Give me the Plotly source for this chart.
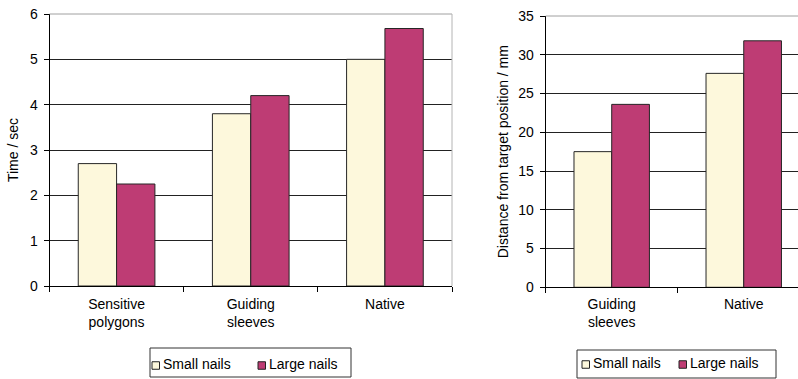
import plotly.graph_objects as go

# Task time per technique
time_categories = ["Sensitive<br>polygons", "Guiding<br>sleeves", "Native"]
time_small = [2.7, 3.8, 5.0]
time_large = [2.25, 4.2, 5.68]

# Placement error per technique
dist_categories = ["Guiding<br>sleeves", "Native"]
dist_small = [17.5, 27.6]
dist_large = [23.6, 31.8]

series_names = ["Small nails", "Large nails"]
small_color = "#FDF8DC"
large_color = "#BE3C74"
edge = "#262626"
font_family = "Liberation Sans, Arial, sans-serif"
fsize = 14

W, H = 798, 379


def px_x(v):
    return v / W


def px_y(v):
    return (H - v) / H


fig = go.Figure()

for name, vals, col in zip(series_names, [time_small, time_large], [small_color, large_color]):
    fig.add_trace(go.Bar(
        x=time_categories, y=vals, name=name,
        marker=dict(color=col, line=dict(color=edge, width=1)),
        xaxis="x", yaxis="y", showlegend=False,
    ))

for name, vals, col in zip(series_names, [dist_small, dist_large], [small_color, large_color]):
    fig.add_trace(go.Bar(
        x=dist_categories, y=vals, name=name,
        marker=dict(color=col, line=dict(color=edge, width=1)),
        xaxis="x2", yaxis="y2", showlegend=False,
    ))

axis_common = dict(
    showgrid=False, showline=True, linecolor="#000000", linewidth=1,
    ticks="outside", tickcolor="#000000", ticklen=5, tickwidth=1,
    tickfont=dict(family=font_family, size=fsize, color="#000000"),
    fixedrange=True, automargin=False, zeroline=False,
)

shapes = [
    # gray plot-area border (top and right) of the left chart
    dict(type="line", xref="x domain", yref="y domain", x0=0, x1=1, y0=1, y1=1,
         line=dict(color="#A0A0A0", width=1), layer="above"),
    dict(type="line", xref="x domain", yref="y domain", x0=1, x1=1, y0=0, y1=1,
         line=dict(color="#B4B4B4", width=1), layer="above"),
    # gray top border of the right chart
    dict(type="line", xref="x2 domain", yref="y2 domain", x0=0, x1=1, y0=1, y1=1,
         line=dict(color="#A0A0A0", width=1), layer="above"),
]
annotations = []

# Legend boxes drawn beneath each chart: (box x0, x1, y0, y1, swatch x positions)
legend_specs = [
    dict(box=(150, 351, 348, 377), swatches=(152, 258), yc=365.5),
    dict(box=(577, 776, 350, 378), swatches=(582, 679), yc=364.5),
]
for spec in legend_specs:
    bx0, bx1, by0, by1 = spec["box"]
    shapes.append(dict(type="rect", xref="paper", yref="paper",
                       x0=px_x(bx0), x1=px_x(bx1), y0=px_y(by1), y1=px_y(by0),
                       line=dict(color="#333333", width=1), fillcolor="white", layer="above"))
    for sx, name, col in zip(spec["swatches"], series_names, [small_color, large_color]):
        yc = spec["yc"]
        shapes.append(dict(type="rect", xref="paper", yref="paper",
                           x0=px_x(sx), x1=px_x(sx + 7.5), y0=px_y(yc + 3.75), y1=px_y(yc - 3.75),
                           line=dict(color="#222222", width=1), fillcolor=col, layer="above"))
        annotations.append(dict(xref="paper", yref="paper", x=px_x(sx + 8.5), y=px_y(yc - 2),
                                text=name, showarrow=False, xanchor="left", yanchor="middle",
                                font=dict(family=font_family, size=fsize, color="#000000")))

fig.update_layout(
    width=W, height=H,
    margin=dict(l=0, r=0, t=0, b=0, pad=0),
    autosize=False,
    paper_bgcolor="white", plot_bgcolor="white",
    barmode="group", bargap=1.5 / 3.5, bargroupgap=0,
    font=dict(family=font_family, size=fsize, color="#000000"),
    showlegend=False,
    xaxis=dict(axis_common, domain=[px_x(49.5), px_x(452)], range=[-0.5, 2.5],
               tickson="boundaries", anchor="y", ticklabelstandoff=5),
    yaxis=dict(axis_common, domain=[px_y(286), px_y(14)], range=[0, 6], dtick=1,
               showgrid=True, gridcolor="#222222", gridwidth=1, anchor="x",
               ticklabelstandoff=3,
               title=dict(text="Time / sec", font=dict(family=font_family, size=fsize), standoff=8)),
    xaxis2=dict(axis_common, domain=[px_x(545.7), 1.0], range=[-0.5, 1.411],
                tickson="boundaries", anchor="y2", ticklabelstandoff=4),
    yaxis2=dict(axis_common, domain=[px_y(287.3), px_y(16)], range=[0, 35], dtick=5,
                showgrid=True, gridcolor="#222222", gridwidth=1, anchor="x2",
                ticklabelstandoff=3,
                title=dict(text="Distance from target position / mm",
                           font=dict(family=font_family, size=fsize), standoff=6)),
    shapes=shapes,
    annotations=annotations,
)

fig.write_html("out.html")
